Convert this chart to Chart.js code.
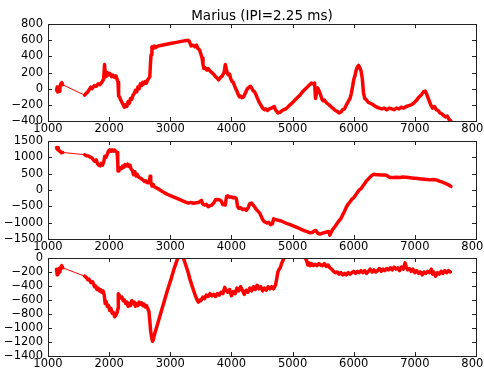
<!DOCTYPE html>
<html>
<head>
<meta charset="utf-8">
<script src="https://cdn.jsdelivr.net/npm/chart.js@4"></script>
<style>
  html, body { margin: 0; padding: 0; background: #fff; overflow: hidden; }
  #wrap { position: relative; width: 484px; height: 369px; overflow: hidden; }
  canvas { position: absolute; left: 0; top: 0; }
</style>
</head>
<body>
<div id="wrap">
  <canvas id="panelA" width="500" height="369"></canvas>
  <canvas id="panelB" width="500" height="369"></canvas>
  <canvas id="panelC" width="500" height="369"></canvas>
</div>
<script>
// values (x = time, y = each channel)
const titleText = 'Marius (IPI=2.25 ms)';
const xTicks = [1000, 2000, 3000, 4000, 5000, 6000, 7000, 8000];

const timeA = [1140,1150,1160,1170,1180,1195,1210,1225,1240,
  1600,1620,1650,1700,1720,1760,1790,1820,1850,1880,1910,1925,1935,1950,1970,1990,2010,2040,2060,2090,2110,2130,2145,
  2155,2170,2190,2210,2230,2250,2270,2290,2310,2330,2350,2370,2390,2410,2430,2450,2470,2490,2510,2530,2550,2570,2590,2610,2630,2650,2665,
  2675,2685,2700,2720,2740,2760,2800,2900,3000,3100,3200,3290,3310,3340,3370,3400,3430,3450,3480,3500,3520,3535,3550,3570,3600,3620,3650,
  3680,3710,3740,3770,3790,3820,3850,3880,3900,3915,3930,3950,3970,3990,4010,4030,4050,4070,4090,4110,4130,4150,4170,4200,4230,4260,4290,
  4310,4330,4350,4380,4400,4420,4450,4480,4510,4540,4560,4590,4620,4650,4680,4700,4720,4740,4760,4780,4800,4830,4860,4890,4920,4960,5000,
  5040,5080,5120,5160,5200,5240,5280,5310,5340,5360,5375,5390,5410,5430,5460,5480,5500,5520,5550,5580,5610,5640,5670,5700,5730,5760,5790,
  5820,5850,5880,5910,5940,5960,5980,6000,6020,6040,6060,6080,6100,6120,6140,6160,6180,6210,6240,6270,6300,6340,6380,6420,6460,6500,6540,
  6580,6620,6660,6700,6740,6780,6820,6860,6900,6940,6980,7020,7060,7100,7140,7170,7190,7210,7230,7260,7290,7320,7350,7380,7410,7440,7470,
  7500,7530,7560,7590];
const seriesA = [-20,20,-40,10,-30,30,60,75,50,
  -80,-60,-40,20,0,40,30,60,50,80,120,300,200,150,200,170,190,150,170,140,160,120,80,
  -90,-100,-140,-170,-200,-230,-200,-220,-160,-180,-120,-130,-80,-60,-20,-40,20,0,60,40,80,60,90,70,110,130,150,
  300,420,520,500,530,510,530,545,560,575,590,600,590,530,540,520,540,500,480,430,380,300,250,260,230,250,220,
  200,180,150,130,110,140,160,200,300,250,200,170,180,120,90,80,40,0,-30,-70,-100,-90,-110,-100,-50,0,20,
  30,10,-20,-40,-70,-110,-160,-200,-240,-260,-250,-270,-250,-240,-230,-220,-260,-280,-300,-290,-290,-270,-260,-250,-230,-200,-170,
  -140,-110,-80,-40,-10,20,50,70,60,70,-120,-60,10,-20,-80,-130,-150,-140,-170,-190,-210,-230,-250,-270,-280,-300,-290,
  -260,-250,-200,-160,-120,-60,20,110,160,230,270,290,260,220,130,-50,-120,-140,-170,-180,-190,-210,-230,-240,-250,-240,-260,
  -240,-250,-260,-240,-250,-230,-240,-220,-210,-200,-180,-150,-110,-80,-40,-30,-60,-100,-140,-200,-240,-220,-260,-270,-300,-310,-330,
  -350,-340,-380,-400];

const timeB = [1140,1150,1165,1180,1200,1220,1240,
  1600,1630,1660,1700,1720,1750,1770,1790,1810,1830,1850,1870,1890,1910,1930,1950,1970,1990,2010,2030,2050,2070,2090,2110,2130,2140,
  2145,2160,2180,2200,2220,2240,2260,2280,2300,2320,2340,2360,2380,2400,2420,2440,2460,2480,2500,2520,2540,2560,2580,2600,2620,2640,
  2660,2670,2680,2700,2720,2740,2760,2800,2850,2900,2950,3000,3050,3100,3150,3200,3250,3300,3340,3380,3420,3460,3490,3510,3530,3560,
  3590,3620,3650,3680,3710,3740,3770,3800,3830,3860,3880,3900,3920,3940,3970,4000,4030,4060,4080,4100,4120,4150,4180,4210,4240,4270,
  4300,4330,4350,4380,4400,4430,4460,4490,4510,4530,4550,4580,4610,4640,4670,4690,4710,4750,4800,4850,4900,4950,5000,5050,5100,5150,
  5200,5250,5290,5320,5350,5380,5410,5450,5490,5530,5570,5590,5610,5630,5660,5700,5730,5760,5790,5820,5850,5880,5910,5940,5970,6000,
  6030,6060,6090,6120,6150,6180,6210,6240,6270,6300,6330,6360,6400,6450,6500,6540,6560,6580,6600,6650,6700,6750,6800,6850,6900,6950,
  7000,7050,7100,7150,7200,7250,7300,7350,7400,7450,7500,7550,7590];
const seriesB = [1300,1250,1300,1200,1180,1140,1150,
  1080,1050,1040,1000,980,900,880,920,800,760,740,820,760,850,1030,1000,1100,1200,1230,1180,1230,1190,1220,1180,1150,900,
  580,620,680,650,730,700,780,740,790,720,760,640,600,470,560,430,480,400,370,360,320,300,260,280,230,220,
  300,420,250,120,170,100,80,40,-20,-80,-130,-170,-210,-250,-290,-330,-370,-400,-380,-410,-390,-380,-350,-320,-430,-460,
  -440,-510,-480,-460,-400,-300,-290,-300,-330,-450,-420,-460,-200,-180,-220,-210,-240,-230,-260,-500,-560,-540,-600,-580,-620,-560,
  -420,-400,-450,-520,-580,-640,-700,-820,-900,-960,-980,-1010,-990,-1060,-1040,-880,-900,-920,-940,-980,-1020,-1050,-1090,-1130,-1170,-1210,
  -1250,-1280,-1310,-1300,-1260,-1240,-1320,-1350,-1320,-1300,-1280,-1270,-1380,-1300,-1200,-1100,-1020,-940,-880,-760,-650,-520,-430,-360,-280,-240,
  -160,-80,0,40,120,200,280,340,400,450,480,470,470,460,460,450,420,400,380,380,390,380,400,390,380,370,
  360,350,340,330,320,310,320,310,270,240,200,160,110];

const timeC = [1140,1150,1160,1170,1180,1195,1210,1225,1240,
  1600,1630,1650,1670,1700,1730,1760,1780,1800,1820,1840,1860,1880,1900,1920,1935,1950,1970,1990,2010,2030,2050,2070,2090,2110,2130,2145,
  2150,2170,2190,2210,2230,2250,2270,2290,2310,2330,2350,2370,2390,2410,2430,2450,2470,2490,2510,2530,2550,2570,2590,2610,2630,2650,
  2665,2680,2695,2710,2725,2740,2780,2820,2860,2900,2940,2980,3020,3060,3100,3130,3160,3200,3230,3260,3290,3320,3350,3380,3410,3440,
  3460,3480,3500,3530,3560,3590,3620,3650,3680,3710,3740,3770,3800,3830,3860,3890,3910,3940,3970,4000,4030,4060,4090,4120,4150,4180,
  4210,4240,4270,4300,4330,4360,4390,4420,4450,4480,4510,4540,4570,4600,4630,4660,4690,4720,4740,4760,4780,4800,4820,4840,4860,4880,
  4950,5050,5150,5200,5230,5250,5270,5290,5310,5340,5370,5400,5430,5460,5490,5520,5550,5580,5610,5640,5670,5700,5730,5760,5790,5820,
  5850,5880,5910,5940,5970,6000,6030,6060,6090,6120,6150,6180,6210,6240,6270,6300,6330,6360,6390,6420,6450,6480,6510,6540,6570,6600,
  6630,6660,6690,6720,6750,6780,6810,6840,6860,6880,6910,6940,6970,7000,7030,7060,7090,7120,7150,7180,7210,7240,7270,7290,7310,7340,
  7370,7400,7430,7460,7490,7520,7550,7580];
const seriesC = [-160,-240,-180,-220,-150,-200,-130,-110,-140,
  -260,-280,-310,-300,-350,-340,-410,-400,-450,-430,-470,-450,-490,-470,-530,-650,-620,-690,-680,-750,-720,-790,-780,-840,-820,-780,-720,
  -510,-540,-570,-560,-610,-600,-650,-630,-690,-650,-680,-610,-650,-630,-690,-650,-680,-630,-660,-640,-680,-660,-700,-680,-720,-760,
  -900,-1050,-1130,-1190,-1160,-1100,-980,-860,-740,-620,-500,-390,-280,-160,-60,20,60,20,-40,-120,-200,-300,-380,-460,-540,-600,
  -630,-600,-610,-560,-580,-530,-550,-510,-540,-520,-550,-510,-530,-490,-510,-420,-460,-490,-450,-540,-480,-510,-430,-470,-410,-460,
  -520,-460,-490,-430,-470,-410,-450,-390,-440,-410,-470,-430,-460,-410,-440,-410,-440,-390,-300,-200,-160,-140,-80,-40,0,40,
  60,70,50,20,-40,-100,-70,-110,-80,-110,-90,-110,-80,-100,-110,-80,-120,-100,-140,-160,-190,-210,-200,-230,-210,-240,
  -220,-240,-210,-230,-210,-190,-220,-190,-210,-180,-210,-180,-220,-190,-160,-200,-170,-200,-180,-150,-190,-160,-180,-150,-170,-140,
  -170,-130,-160,-140,-180,-130,-160,-70,-130,-170,-150,-190,-160,-210,-180,-220,-200,-240,-200,-220,-190,-210,-160,-230,-200,-260,
  -210,-230,-190,-220,-180,-210,-180,-200];

const FONT = "'DejaVu Sans', Verdana, sans-serif";

// matplotlib-ish box with inward ticks on every side
const frameTicks = {
  id: 'frameTicks',
  afterDraw(chart) {
    const { ctx, chartArea: a, scales } = chart;
    const x = scales.x, y = scales.y;
    ctx.save();
    ctx.strokeStyle = '#222';
    ctx.lineWidth = 1;
    ctx.beginPath();
    x.ticks.forEach(t => {
      const px = Math.round(x.getPixelForValue(t.value)) + 0.5;
      ctx.moveTo(px, a.bottom); ctx.lineTo(px, a.bottom - 4);
      ctx.moveTo(px, a.top); ctx.lineTo(px, a.top + 4);
    });
    y.ticks.forEach(t => {
      const py = Math.round(y.getPixelForValue(t.value)) + 0.5;
      ctx.moveTo(a.left, py); ctx.lineTo(a.left + 4, py);
      ctx.moveTo(a.right, py); ctx.lineTo(a.right - 4, py);
    });
    ctx.stroke();
    ctx.strokeRect(Math.round(a.left) + 0.5, Math.round(a.top) + 0.5,
      Math.round(a.right - a.left), Math.round(a.bottom - a.top));
    ctx.restore();
  }
};

function fmt(v) {
  return v < 0 ? '\u2212' + Math.abs(v) : String(v);
}

function makePanel(id, times, values, yMin, yMax, yStep, pad, xHeight, title) {
  const ctx = document.getElementById(id).getContext('2d');
  return new Chart(ctx, {
    type: 'line',
    data: {
      datasets: [{
        data: times.map((t, i) => ({ x: t, y: values[i] })),
        borderColor: '#ff0000',
        borderWidth: 3.5,
        borderJoinStyle: 'round',
        borderCapStyle: 'round',
        pointRadius: 0,
        tension: 0,
        clip: 0,
        segment: {
          // long gaps in the record are drawn as a thin line
          borderWidth: c => (c.p1.parsed.x - c.p0.parsed.x > 200 ? 1 : 3.5)
        }
      }]
    },
    options: {
      responsive: false,
      animation: false,
      events: [],
      layout: { padding: pad },
      plugins: {
        legend: { display: false },
        tooltip: { enabled: false },
        title: {
          display: !!title,
          text: title || '',
          fullSize: false,
          color: '#000',
          font: { family: FONT, size: 13.5, weight: 'normal' },
          padding: { top: 8, bottom: 0 }
        }
      },
      scales: {
        x: {
          type: 'linear',
          min: 1000,
          max: 8000,
          afterBuildTicks: s => { s.ticks = xTicks.map(v => ({ value: v })); },
          afterFit: s => { s.height = xHeight; },
          grid: { display: false, drawTicks: false },
          border: { display: false },
          ticks: {
            autoSkip: false,
            maxRotation: 0,
            padding: 1,
            color: '#000',
            font: { family: FONT, size: 11.5 },
            callback: v => fmt(v)
          }
        },
        y: {
          type: 'linear',
          min: yMin,
          max: yMax,
          afterFit: s => { s.width = 48; },
          grid: { display: false, drawTicks: false },
          border: { display: false },
          ticks: {
            stepSize: yStep,
            autoSkip: false,
            padding: 5,
            color: '#000',
            font: { family: FONT, size: 11.5 },
            callback: v => fmt(v)
          }
        }
      }
    },
    plugins: [frameTicks]
  });
}

makePanel('panelA', timeA, seriesA, -400, 800, 200, { top: 0, right: 24, bottom: 234, left: 0 }, 14, titleText);
makePanel('panelB', timeB, seriesB, -1500, 1500, 500, { top: 141, right: 24, bottom: 116, left: 0 }, 14, null);
makePanel('panelC', timeC, seriesC, -1400, 0, 200, { top: 258, right: 24, bottom: 0, left: 0 }, 13, null);
</script>
</body>
</html>
